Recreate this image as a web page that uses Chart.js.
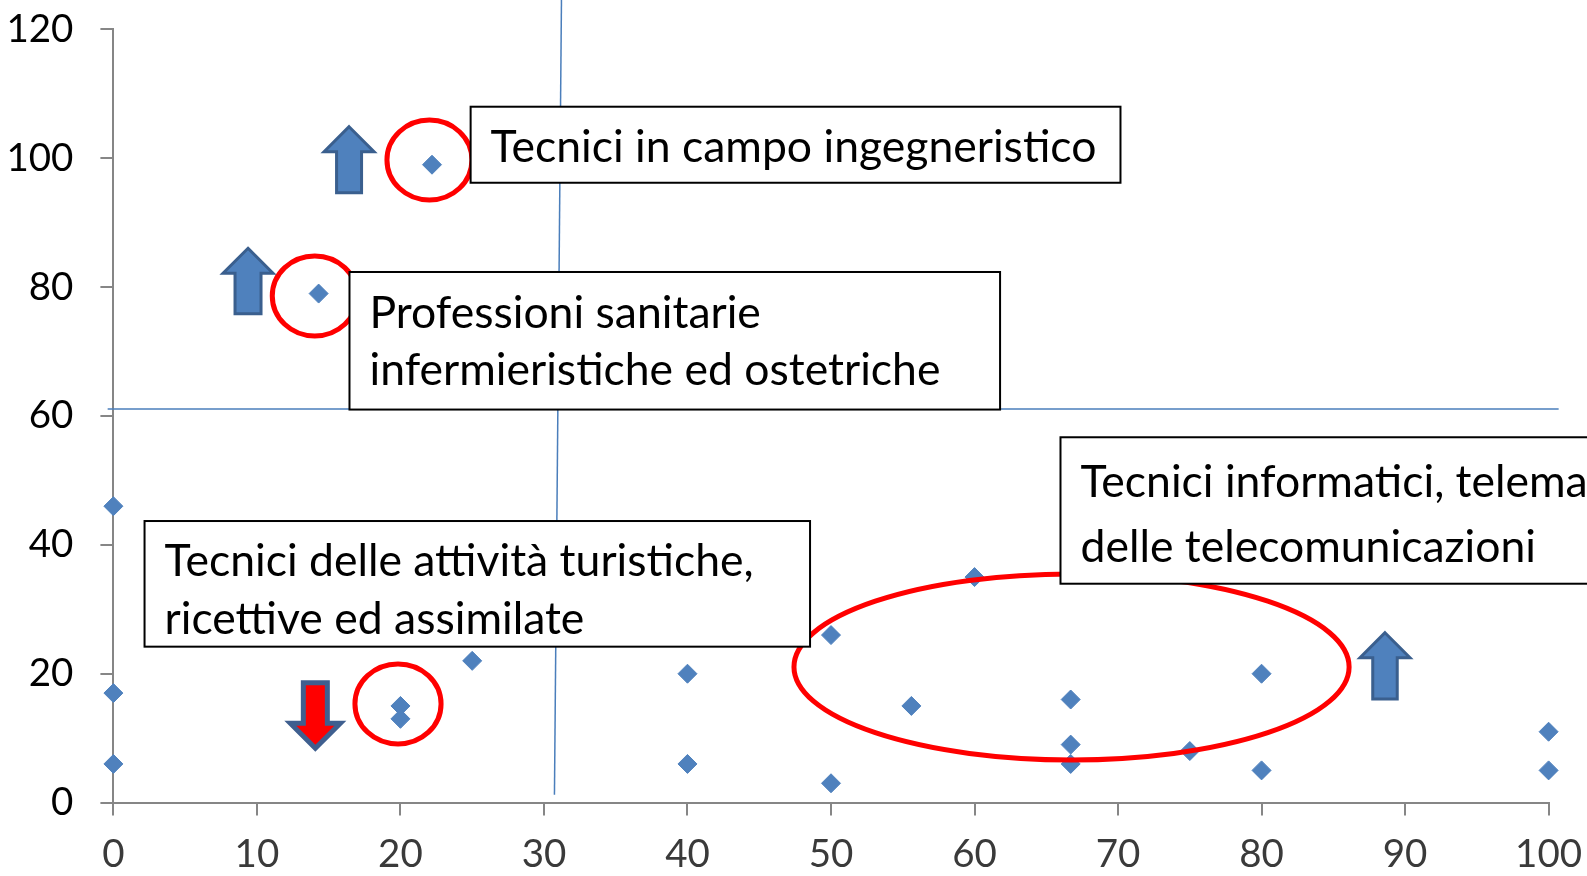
<!DOCTYPE html>
<html>
<head>
<meta charset="utf-8">
<script src="https://cdn.jsdelivr.net/npm/chart.js@4.4.1/dist/chart.umd.min.js"></script>
<style>
html,body{margin:0;padding:0;background:#fff;overflow:hidden;}
canvas{display:block;}
</style>
</head>
<body>
<canvas id="c" width="1587" height="876"></canvas>
<script>
// ---- data ----
const xValues = [0, 0, 0, 14.3, 22.2, 20, 20, 25, 40, 40, 50, 50, 55.6, 60, 66.7, 66.7, 66.7, 75, 80, 80, 100, 100];
const yValues = [46, 17, 6, 79, 99, 15, 13, 22, 20, 6, 26, 3, 15, 35, 16, 9, 6, 8, 20, 5, 11, 5];
const xTicks = [0, 10, 20, 30, 40, 50, 60, 70, 80, 90, 100];
const yTicks = [0, 20, 40, 60, 80, 100, 120];
const hLineX = [-0.4, 100.7];
const hLineY = [61.1, 61.1];
const vLineX = [30.73, 31.22];
const vLineY = [1.2, 124.6];

const boxTexts = [
  ["Tecnici in campo ingegneristico"],
  ["Professioni sanitarie", "infermieristiche ed ostetriche"],
  ["Tecnici delle attività turistiche,", "ricettive ed assimilate"],
  ["Tecnici informatici, telematici e", "delle telecomunicazioni"]
];

// ---- annotation geometry (data units) ----
const boxes = [
  {x0: 24.89, x1: 70.17, yTop: 108.0, yBot: 96.2, baselines: [55.2]},
  {x0: 16.45, x1: 61.78, yTop: 82.35, yBot: 61.0, baselines: [55.7, 113.5]},
  {x0: 2.17, x1: 48.54, yTop: 43.7, yBot: 24.2, baselines: [54.7, 113.0]},
  {x0: 65.99, x1: 104.5, yTop: 56.7, yBot: 33.97, baselines: [59.4, 125.0]}
];
const ellipses = [
  {cx: 22.02, cy: 99.73, rx: 2.96, ry: 6.21},
  {cx: 14.03, cy: 78.63, rx: 2.96, ry: 6.21},
  {cx: 19.83, cy: 15.32, rx: 3.0, ry: 6.21},
  {cx: 66.76, cy: 21.05, rx: 19.34, ry: 14.43}
];
const arrows = [
  {cx: 16.42, tip: 104.9, tail: 94.66, w: 50, s: 25, head: 25, fill: '#4F81BD', stroke: '#3A5F8E', lw: 3},
  {cx: 9.38, tip: 86.03, tail: 75.88, w: 50, s: 26, head: 25, fill: '#4F81BD', stroke: '#3A5F8E', lw: 3},
  {cx: 14.07, tip: 8.43, tail: 18.61, w: 50, s: 24, head: 25, fill: '#FF0000', stroke: '#3F5F8F', lw: 5},
  {cx: 88.6, tip: 26.37, tail: 16.08, w: 50, s: 24.5, head: 25, fill: '#4F81BD', stroke: '#3A5F8E', lw: 3}
];

const annotPlugin = {
  id: 'annot',
  afterDatasetsDraw(chart) {
    const ctx = chart.ctx;
    const xs = chart.scales.x, ys = chart.scales.y;
    const px = v => xs.getPixelForValue(v);
    const py = v => ys.getPixelForValue(v);
    ctx.save();
    // ellipses
    ellipses.forEach(e => {
      const cx = px(e.cx), cy = py(e.cy);
      const rx = Math.abs(px(e.cx + e.rx) - cx), ry = Math.abs(py(e.cy + e.ry) - cy);
      ctx.beginPath();
      ctx.ellipse(cx, cy, rx, ry, 0, 0, Math.PI * 2);
      ctx.strokeStyle = '#FF0000';
      ctx.lineWidth = 5;
      ctx.stroke();
    });
    // arrows
    arrows.forEach(a => {
      const cx = px(a.cx), tip = py(a.tip), tail = py(a.tail);
      const dir = tail > tip ? 1 : -1; // 1 = pointing up
      const hb = tip + dir * a.head;
      ctx.beginPath();
      ctx.moveTo(cx, tip);
      ctx.lineTo(cx + a.w / 2, hb);
      ctx.lineTo(cx + a.s / 2, hb);
      ctx.lineTo(cx + a.s / 2, tail);
      ctx.lineTo(cx - a.s / 2, tail);
      ctx.lineTo(cx - a.s / 2, hb);
      ctx.lineTo(cx - a.w / 2, hb);
      ctx.closePath();
      ctx.fillStyle = a.fill;
      ctx.fill();
      ctx.lineJoin = 'miter';
      ctx.strokeStyle = a.stroke;
      ctx.lineWidth = a.lw;
      ctx.stroke();
    });
    // text boxes
    boxes.forEach((b, i) => {
      const x0 = px(b.x0), x1 = px(b.x1), y0 = py(b.yTop), y1 = py(b.yBot);
      ctx.fillStyle = '#FFFFFF';
      ctx.fillRect(x0, y0, x1 - x0, y1 - y0);
      ctx.strokeStyle = '#000000';
      ctx.lineWidth = 2;
      ctx.strokeRect(x0, y0, x1 - x0, y1 - y0);
      ctx.fillStyle = '#000000';
      ctx.font = '44.5px Lato';
      ctx.textAlign = 'left';
      ctx.textBaseline = 'alphabetic';
      boxTexts[i].forEach((t, j) => ctx.fillText(t, x0 + 20, y0 + b.baselines[j]));
    });
    ctx.restore();
  }
};

const axisCommon = {
  type: 'linear',
  grid: {display: true, drawOnChartArea: false, drawTicks: true, tickLength: 13, color: '#868686', lineWidth: 2},
  border: {display: true, color: '#868686', width: 2}
};

new Chart(document.getElementById('c'), {
  type: 'scatter',
  data: {
    datasets: [
      {
        data: xValues.map((v, i) => ({x: v, y: yValues[i]})),
        pointStyle: 'rectRot', pointRadius: 9.5, pointHoverRadius: 9.5,
        backgroundColor: '#4F81BD', borderColor: '#4F81BD', borderWidth: 1, clip: false, order: 1
      },
      {
        type: 'line',
        data: hLineX.map((v, i) => ({x: v, y: hLineY[i]})),
        borderColor: '#4A7EBB', borderWidth: 1.5, pointRadius: 0, showLine: true, clip: false, order: 2
      },
      {
        type: 'line',
        data: vLineX.map((v, i) => ({x: v, y: vLineY[i]})),
        borderColor: '#4A7EBB', borderWidth: 1.5, pointRadius: 0, showLine: true, clip: false, order: 2
      }
    ]
  },
  options: {
    responsive: false,
    animation: false,
    devicePixelRatio: 1,
    layout: {padding: {left: 0, right: 38.4, top: 29.4, bottom: 0}},
    plugins: {legend: {display: false}, tooltip: {enabled: false}, title: {display: false}},
    scales: {
      x: Object.assign({}, axisCommon, {
        min: 0, max: 100,
        afterBuildTicks: s => { s.ticks = xTicks.map(v => ({value: v})); },
        afterFit: s => { s.height = 73.4; s.paddingLeft = 0; s.paddingRight = 0; },
        ticks: {font: {family: 'Lato', size: 38.5}, color: '#3A3A3A', padding: 16, maxRotation: 0, autoSkip: false}
      }),
      y: Object.assign({}, axisCommon, {
        min: 0, max: 120,
        afterBuildTicks: s => { s.ticks = yTicks.map(v => ({value: v})); },
        afterFit: s => { s.width = 113.4; s.paddingTop = 0; s.paddingBottom = 0; },
        ticks: {font: {family: 'Lato', size: 38.5}, color: '#000000', padding: 27, autoSkip: false}
      })
    }
  },
  plugins: [annotPlugin]
});
</script>
</body>
</html>
